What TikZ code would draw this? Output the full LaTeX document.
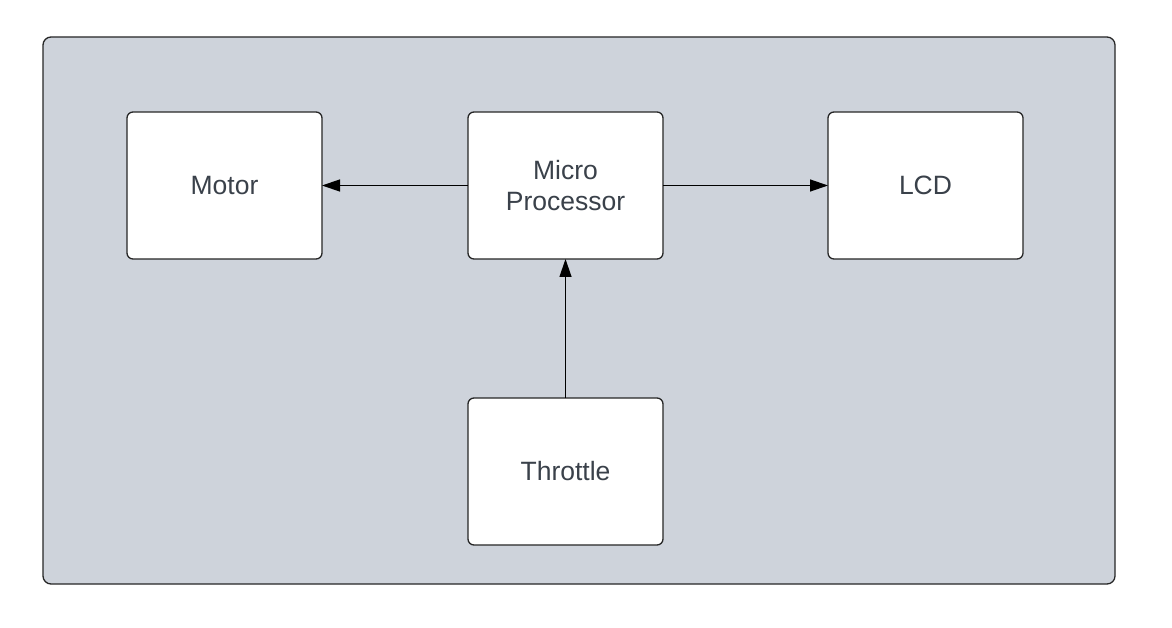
\documentclass[tikz,border=0pt]{standalone}
\usepackage{fontspec}
\setmainfont{Liberation Sans}
\usetikzlibrary{arrows.meta,positioning}

\definecolor{panelgray}{HTML}{CED3DB}
\definecolor{textgray}{HTML}{3A414A}

\tikzset{
    block/.style={draw=black!85, line width=1.3pt, fill=white, rounded corners=6pt,
        minimum width=195pt, minimum height=147pt, inner sep=0pt, outer sep=0pt,
        align=center, text=textgray, font=\fontsize{26.5}{31}\selectfont},
    link/.style={line width=1.3pt, -{Triangle[length=18pt,width=12pt]}}
}

\begin{document}
\begin{tikzpicture}[x=1pt,y=-1pt]
    \useasboundingbox (0,0) rectangle (1172,628);
    \draw[fill=panelgray, draw=black!85, line width=1.3pt, rounded corners=8pt]
        (43,37) rectangle (1115,584);

    \node[block] (motor) at (224.5,185.5) {Motor};
    \node[block, right=146pt of motor] (proc) {Micro\\Processor};
    \node[block, right=165pt of proc] (lcd) {LCD};
    \node[block, below=139pt of proc] (throttle) {Throttle};

    \draw[link] (proc) -- (motor);
    \draw[link] (proc) -- (lcd);
    \draw[link] (throttle) -- (proc);
\end{tikzpicture}
\end{document}
